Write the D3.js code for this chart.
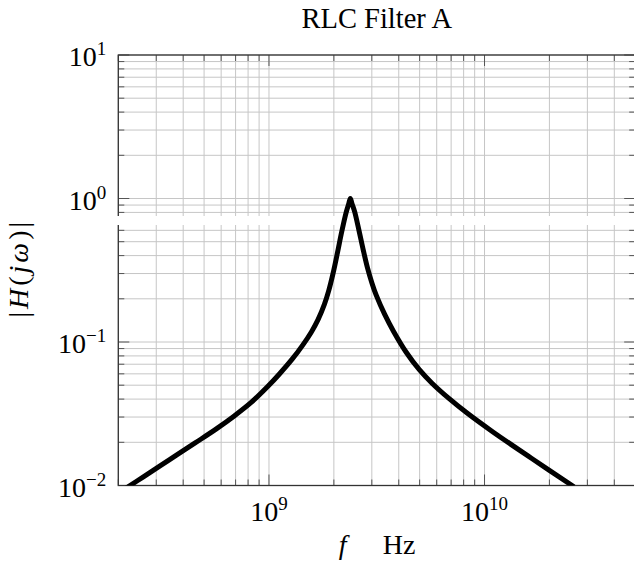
<!DOCTYPE html>
<html>
<head>
  <script src="https://d3js.org/d3.v7.js"></script>
  <style>
    html, body {
      margin: 0px;
      padding: 0px;
      background: #ffffff;
    }

    #chart {
      width: 634px;
      height: 562px;
      position: relative;
    }

    text {
      font-family: "Liberation Serif", "Times New Roman", serif;
      fill: #000;
    }
  </style>
</head>
<body>
  <div id="chart"></div>
  <script>

    /*
    DATA
    */
    const freq = [
      2.175e8, 2.615e8, 3.447e8, 4.545e8, 5.721e8, 6.878e8, 8.27e8, 9.942e8,
      1.1155e9, 1.281e9, 1.437e9, 1.576e9, 1.689e9, 1.809e9, 1.895e9, 1.984e9,
      2.077e9, 2.175e9, 2.278e9, 2.341e9,
      2.385e9,
      2.43e9, 2.497e9, 2.615e9, 2.738e9, 2.867e9, 3.003e9, 3.144e9, 3.447e9, 3.78e9,
      4.34e9, 4.983e9, 5.721e9, 6.879e9, 8.27e9, 1.09e10, 1.65e10, 2.6e10
    ];
    const magnitude = [
      0.0096, 0.0115, 0.0151, 0.0198, 0.0249, 0.0304, 0.0379, 0.0495,
      0.0596, 0.0759, 0.0955, 0.118, 0.1432, 0.1837, 0.229, 0.302,
      0.417, 0.586, 0.794, 0.912,
      1.0,
      0.916, 0.81, 0.60, 0.437, 0.327, 0.258, 0.212, 0.155, 0.119,
      0.0845, 0.0641, 0.0514, 0.0401, 0.0321, 0.0237, 0.01549, 0.0098
    ];

    const xTickValues = [1e9, 1e10];
    const xTickExponents = ["9", "10"];
    const yTickValues = [1e-2, 1e-1, 1e0, 1e1];
    const yTickExponents = ["\u22122", "\u22121", "0", "1"];

    const title = "RLC Filter A";

    /*
    SVG CANVAS
    */
    const width = 634;
    const height = 562;
    const margin = {top: 55, left: 118.3, right: -1.2, bottom: 76.5};

    const svg = d3.select("#chart")
      .append("svg")
      .attr("width", width)
      .attr("height", height);

    /*
    SCALES
    */
    const xScale = d3.scaleLog()
      .domain([2e8, 5e10])
      .range([margin.left, width - margin.right]);

    const yScale = d3.scaleLog()
      .domain([1e-2, 1e1])
      .range([height - margin.bottom, margin.top]);

    const x0 = xScale.range()[0], x1 = xScale.range()[1];
    const y0 = yScale.range()[0], y1 = yScale.range()[1];

    const isMajor = v => Math.abs(Math.log10(v) - Math.round(Math.log10(v))) < 1e-9;

    /*
    GRID (major and minor)
    */
    const grid = svg.append("g").attr("class", "grid");

    grid.selectAll("line.vx")
      .data(xScale.ticks())
      .enter()
      .append("line")
        .attr("x1", d => xScale(d)).attr("x2", d => xScale(d))
        .attr("y1", y1).attr("y2", y0)
        .attr("stroke", "#c6c6c6")
        .attr("stroke-width", 1);

    grid.selectAll("line.hy")
      .data(yScale.ticks())
      .enter()
      .append("line")
        .attr("x1", x0).attr("x2", x1)
        .attr("y1", d => yScale(d)).attr("y2", d => yScale(d))
        .attr("stroke", "#c6c6c6")
        .attr("stroke-width", 1);

    /*
    TICKS, inward on all four sides
    */
    const ticks = svg.append("g").attr("stroke", "#555").attr("stroke-width", 1);
    const tickLen = d => isMajor(d) ? 11 : 6;

    xScale.ticks().forEach(d => {
      const x = xScale(d);
      ticks.append("line").attr("x1", x).attr("x2", x).attr("y1", y0).attr("y2", y0 - tickLen(d));
      ticks.append("line").attr("x1", x).attr("x2", x).attr("y1", y1).attr("y2", y1 + tickLen(d));
    });
    yScale.ticks().forEach(d => {
      const y = yScale(d);
      ticks.append("line").attr("x1", x0).attr("x2", x0 + tickLen(d)).attr("y1", y).attr("y2", y);
      ticks.append("line").attr("x1", x1).attr("x2", x1 - tickLen(d)).attr("y1", y).attr("y2", y);
    });

    /*
    FRAME
    */
    svg.append("rect")
      .attr("x", x0).attr("y", y1)
      .attr("width", x1 - x0).attr("height", y0 - y1)
      .attr("fill", "none")
      .attr("stroke", "#333")
      .attr("stroke-width", 1.3);

    // white band that breaks the y axis just below 10^0
    svg.append("rect")
      .attr("x", x0 - 4).attr("y", 216)
      .attr("width", width).attr("height", 9)
      .attr("fill", "#fff");

    /*
    CURVE
    */
    svg.append("clipPath").attr("id", "plotArea")
      .append("rect")
        .attr("x", x0).attr("y", y1)
        .attr("width", x1 - x0).attr("height", y0 - y1);

    const line = d3.line()
      .x(d => xScale(d[0]))
      .y(d => yScale(d[1]))
      .curve(d3.curveCatmullRom.alpha(0.5));

    svg.append("path")
      .datum(d3.zip(freq, magnitude))
      .attr("clip-path", "url(#plotArea)")
      .attr("d", line)
      .attr("fill", "none")
      .attr("stroke", "#000")
      .attr("stroke-width", 5)
      .attr("stroke-linejoin", "round");

    /*
    TICK LABELS
    */
    xTickValues.forEach((v, i) => {
      const t = svg.append("text")
        .attr("x", xScale(v))
        .attr("y", y0 + 35)
        .attr("text-anchor", "middle")
        .attr("font-size", 28);
      t.append("tspan").text("10");
      t.append("tspan").attr("font-size", 19).attr("dy", -11).text(xTickExponents[i]);
    });

    yTickValues.forEach((v, i) => {
      const t = svg.append("text")
        .attr("x", x0 - 12)
        .attr("y", yScale(v) + 11)
        .attr("text-anchor", "end")
        .attr("font-size", 28);
      t.append("tspan").text("10");
      t.append("tspan").attr("font-size", 19).attr("dy", -11).text(yTickExponents[i]);
    });

    /*
    TITLE AND AXIS LABELS
    */
    const cx = (x0 + x1) / 2;
    const cy = (y0 + y1) / 2;

    svg.append("text")
      .attr("x", cx)
      .attr("y", 28)
      .attr("text-anchor", "middle")
      .attr("font-size", 28.5)
      .text(title);

    svg.append("text")
      .attr("x", cx - 38)
      .attr("y", 554)
      .attr("font-size", 28)
      .attr("font-style", "italic")
      .text("f");

    svg.append("text")
      .attr("x", cx + 6)
      .attr("y", 554)
      .attr("font-size", 28)
      .text("Hz");

    const yl = svg.append("text")
      .attr("transform", `translate(28,${cy - 2}) rotate(-90)`)
      .attr("text-anchor", "middle")
      .attr("letter-spacing", 3)
      .attr("font-size", 28);
    yl.append("tspan").text("|");
    yl.append("tspan").attr("font-style", "italic").text("H");
    yl.append("tspan").text("(");
    yl.append("tspan").attr("font-style", "italic").text("j\u03c9");
    yl.append("tspan").text(")|");

  </script>
</body>
</html>
